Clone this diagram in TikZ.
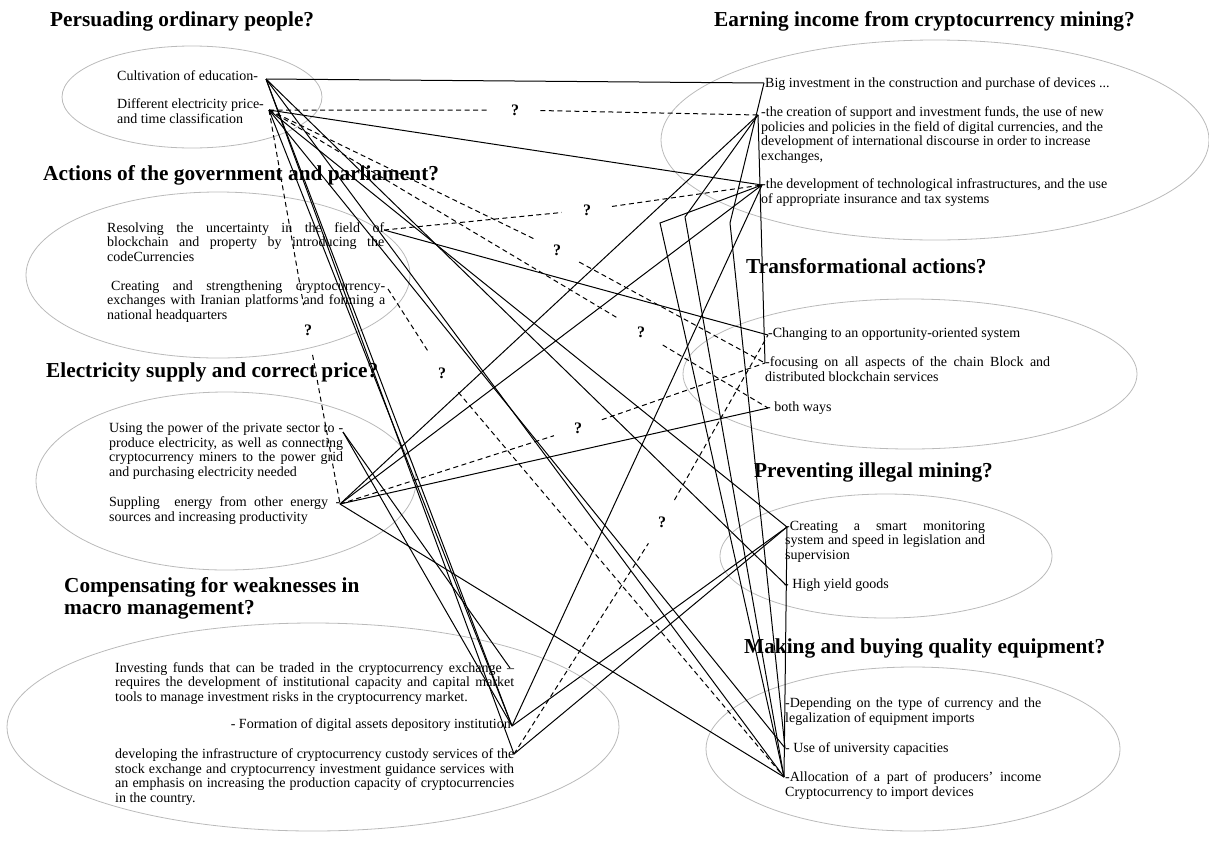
\documentclass[tikz,border=0pt]{standalone}
\usepackage{fontspec}
\setmainfont{Liberation Serif}
\usetikzlibrary{positioning}

\newcommand{\jline}[2]{\makebox[#1][s]{#2}}

\begin{document}
\begin{tikzpicture}[
        x=1pt, y=-1pt,
        bubble/.style={draw=black!27, line width=0.8pt},
        heading/.style={anchor=base west, inner sep=0, align=left, font=\fontsize{21.3}{21.5}\selectfont\bfseries},
        item/.style={anchor=base west, inner sep=0, align=left, font=\fontsize{14}{14.4}\selectfont},
        quest/.style={circle, inner sep=13pt, font=\fontsize{16}{16}\selectfont\bfseries},
        link/.style={line width=1pt},
        hint/.style={line width=1pt, dash pattern=on 5pt off 3.5pt}
    ]
        \useasboundingbox (0,0) rectangle (1209,849);

        % Bubbles
        \draw[bubble] (192,97) ellipse [x radius=130, y radius=51];
        \draw[bubble] (218,275) ellipse [x radius=192, y radius=83];
        \draw[bubble] (226,481) ellipse [x radius=190, y radius=89];
        \draw[bubble] (313,727) ellipse [x radius=306, y radius=104];
        \draw[bubble] (935,140) ellipse [x radius=274, y radius=100];
        \draw[bubble] (910,374) ellipse [x radius=227, y radius=75];
        \draw[bubble] (886,556) ellipse [x radius=166, y radius=62];
        \draw[bubble] (913,749) ellipse [x radius=207, y radius=82];

        % Headings (base = last line)
        \node[heading] (hPeople) at (50,26) {Persuading ordinary people?};
        \node[heading] (hGov) at (43,180) {Actions of the government and parliament?};
        \node[heading] (hPower) at (46,377) {Electricity supply and correct price?};
        \node[heading] (hMacro) at (64,614) {Compensating for weaknesses in\\macro management?};
        \node[heading] (hIncome) at (714,26) {Earning income from cryptocurrency mining?};
        \node[heading] (hTrans) at (746,273) {Transformational actions?};
        \node[heading] (hIllegal) at (754,477) {Preventing illegal mining?};
        \node[heading] (hEquip) at (744,653) {Making and buying quality equipment?};

        % Left items (base = last line)
        \node[item] (edu) at (117,80) {Cultivation of education-};
        \node[item] (price) at (117,123) {Different electricity price-\\and time classification};
        \node[item] (res) at (107,261) {\jline{277pt}{Resolving the uncertainty in the field of}\\
            \jline{277pt}{blockchain and property by introducing the}\\codeCurrencies};
        \node[item] (cre) at (107,319) {\jline{278pt}{\hspace*{4pt}Creating and strengthening cryptocurrency-}\\
            \jline{278pt}{exchanges with Iranian platforms and forming a}\\national headquarters};
        \node[item] (usi) at (109,476) {\jline{234pt}{Using the power of the private sector to -}\\
            \jline{234pt}{produce electricity, as well as connecting}\\
            \jline{234pt}{cryptocurrency miners to the power grid}\\and purchasing electricity needed};
        \node[item] (sup) at (109,521) {\jline{231pt}{Suppling \ energy from other energy -}\\sources and increasing productivity};
        \node[item] (inv) at (115,701) {\jline{399pt}{Investing funds that can be traded in the cryptocurrency exchange --}\\
            \jline{399pt}{requires the development of institutional capacity and capital market}\\
            tools to manage investment risks in the cryptocurrency market.};
        \node[item, anchor=base east] (form) at (511,728) {- Formation of digital assets depository institution};
        \node[item] (dev) at (115,802) {\jline{399pt}{developing the infrastructure of cryptocurrency custody services of the}\\
            \jline{399pt}{stock exchange and cryptocurrency investment guidance services with}\\
            \jline{399pt}{an emphasis on increasing the production capacity of cryptocurrencies}\\in the country.};

        % Right items (base = last line)
        \node[item] (big) at (765,87) {Big investment in the construction and purchase of devices ...};
        \node[item] (crea) at (761,160) {-the creation of support and investment funds, the use of new\\
            policies and policies in the field of digital currencies, and the\\
            development of international discourse in order to increase\\exchanges,};
        \node[item] (tech) at (761,203) {-the development of technological infrastructures, and the use\\of appropriate insurance and tax systems};
        \node[item] (chg) at (768,337) {-Changing to an opportunity-oriented system};
        \node[item] (foc) at (765,381) {\jline{285pt}{-focusing on all aspects of the chain Block and}\\distributed blockchain services};
        \node[item] (both) at (766,411) {- both ways};
        \node[item] (smart) at (785,559) {\jline{200pt}{-Creating a smart monitoring}\\
            \jline{200pt}{system and speed in legislation and}\\supervision};
        \node[item] (yield) at (784,588) {- High yield goods};
        \node[item] (dep) at (785,722) {\jline{256pt}{-Depending on the type of currency and the}\\legalization of equipment imports};
        \node[item] (univ) at (785,752) {- Use of university capacities};
        \node[item] (alloc) at (785,796) {\jline{256pt}{-Allocation of a part of producers' income}\\Cryptocurrency to import devices};

        % Pins
        \coordinate (pEdu) at (266,79);
        \coordinate (pPrice) at (269,110);
        \coordinate (pRes) at (384,230);
        \coordinate (pCre) at (388,289);
        \coordinate (pUsi) at (343,432);
        \coordinate (pSup) at (340,504);
        \coordinate (pInv) at (510,668);
        \coordinate (pForm) at (512,726);
        \coordinate (pDev) at (514,754);
        \coordinate (pBig) at (764,83);
        \coordinate (pCrea) at (758,115);
        \coordinate (pTech) at (762,185);
        \coordinate (pChg) at (768,335);
        \coordinate (pFoc) at (765,363);
        \coordinate (pBoth) at (768,408);
        \coordinate (pSmart) at (787,527);
        \coordinate (pYield) at (787,586);
        \coordinate (pDep) at (785,704);
        \coordinate (pUniv) at (785,748);
        \coordinate (pAlloc) at (784,777);
        \coordinate (kBig) at (730,223);
        \coordinate (kCrea) at (685,217);
        \coordinate (kTech) at (660,223);

        % Links
        \draw[link] (pEdu) -- (pBig);
        \draw[link] (pPrice) -- (pTech);
        \draw[link] (pEdu) -- (pForm);
        \draw[link] (pEdu) -- (pDev);
        \draw[link] (pPrice) -- (pForm);
        \draw[link] (pEdu) -- (pAlloc);
        \draw[link] (pEdu) -- (pYield);
        \draw[link] (pPrice) -- (pSmart);
        \draw[link] (pPrice) -- (pUniv);
        \draw[link] (pRes) -- (pChg);
        \draw[link] (pUsi) -- (pInv);
        \draw[link] (pUsi) -- (pForm);
        \draw[link] (pSup) -- (pCrea);
        \draw[link] (pSup) -- (pTech);
        \draw[link] (pSup) -- (pBoth);
        \draw[link] (pSup) -- (pAlloc);
        \draw[link] (pForm) -- (pTech);
        \draw[link] (pForm) -- (pSmart);
        \draw[link] (pDev) -- (pSmart);
        \draw[link] (pSmart) -- (pAlloc);
        \draw[link] (pCrea) -- (pFoc);
        \draw[link] (pBig) -- (kBig) -- (pUniv);
        \draw[link] (pCrea) -- (kCrea) -- (pAlloc);
        \draw[link] (pTech) -- (kTech) -- (pAlloc);

        % Open questions
        \node[quest] (qPrice) at (515,110) {?};
        \node[quest] (qRes) at (587,210) {?};
        \node[quest] (qFoc) at (557,250) {?};
        \node[quest] (qBoth) at (641,332) {?};
        \node[quest] (qSup) at (308,330) {?};
        \node[quest] (qCre) at (442,373) {?};
        \node[quest] (qTwo) at (578,428) {?};
        \node[quest] (qDev) at (662,522) {?};
        \draw[hint] (pPrice) -- (qPrice) -- (pCrea);
        \draw[hint] (pRes) -- (qRes) -- (pTech);
        \draw[hint] (pPrice) -- (qFoc) -- (pFoc);
        \draw[hint] (pPrice) -- (qBoth) -- (pBoth);
        \draw[hint] (pPrice) -- (qSup) -- (pSup);
        \draw[hint] (pCre) -- (qCre) -- (pAlloc);
        \draw[hint] (pSup) -- (qTwo) -- (pFoc);
        \draw[hint] (pDev) -- (qDev) -- (pChg);

    \end{tikzpicture}
\end{document}
